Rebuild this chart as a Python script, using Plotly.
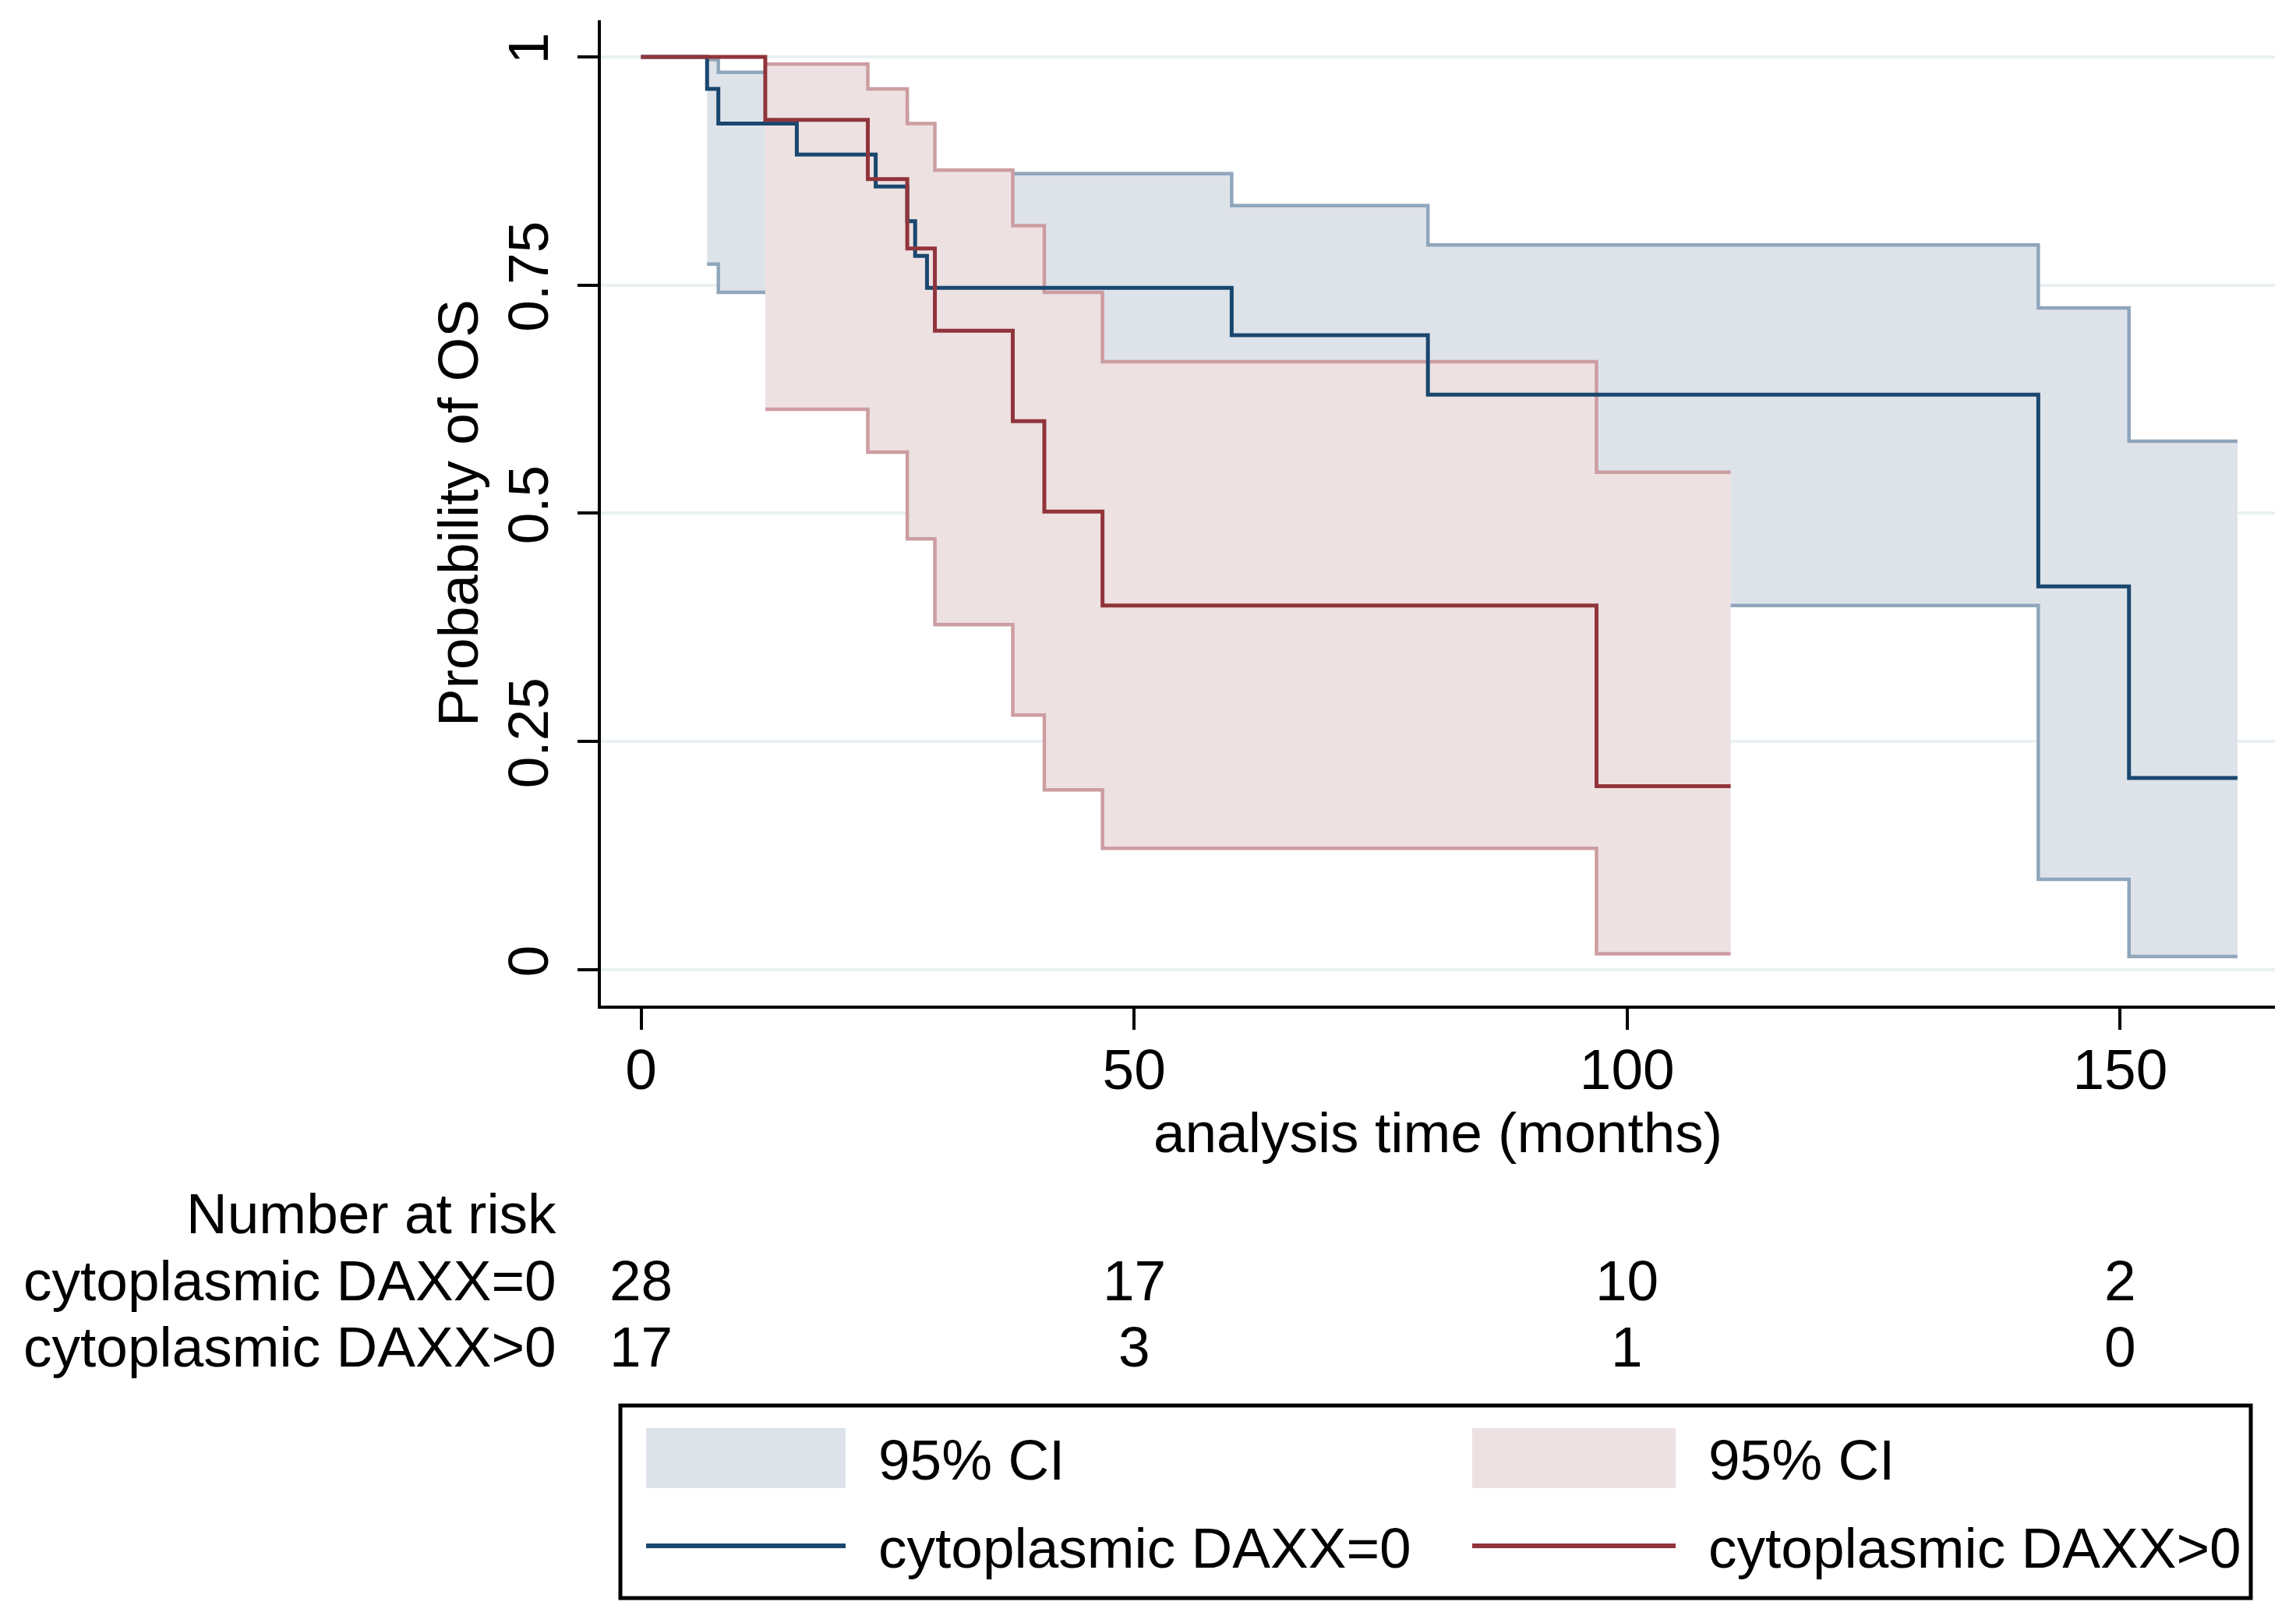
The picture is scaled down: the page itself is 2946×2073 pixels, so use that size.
import plotly.graph_objects as go

# ---------------- data ----------------
# Group DAXX=0 : Kaplan-Meier estimate
t0 = [0, 6.7, 7.84, 15.8, 23.8, 27.0, 27.8, 29.0, 59.9, 79.8, 141.7, 150.9, 161.9]
s0 = [1.0, 0.965, 0.927, 0.893, 0.858, 0.820, 0.782, 0.747, 0.695, 0.630, 0.420, 0.210, 0.210]
# Group DAXX=0 : 95% CI
ci0_t = [6.7, 7.84, 15.8, 23.8, 27.0, 27.8, 29.0, 59.9, 79.8, 141.7, 150.9, 161.9]
ci0_hi = [0.997, 0.983, 0.958, 0.940, 0.915, 0.900, 0.872, 0.837, 0.794, 0.725, 0.579, 0.579]
ci0_lo = [0.773, 0.742, 0.710, 0.665, 0.625, 0.590, 0.555, 0.490, 0.399, 0.099, 0.0145, 0.0145]

# Group DAXX>0 : Kaplan-Meier estimate
t1 = [0, 12.6, 23.0, 27.0, 29.8, 37.7, 40.9, 46.8, 96.9, 110.5]
s1 = [1.0, 0.931, 0.866, 0.790, 0.700, 0.601, 0.502, 0.399, 0.201, 0.201]
# Group DAXX>0 : 95% CI
ci1_t = [12.6, 23.0, 27.0, 29.8, 37.7, 40.9, 46.8, 96.9, 110.5]
ci1_hi = [0.992, 0.965, 0.927, 0.876, 0.815, 0.742, 0.666, 0.545, 0.545]
ci1_lo = [0.614, 0.567, 0.472, 0.378, 0.279, 0.197, 0.133, 0.0175, 0.0175]

# Number at risk table
risk_times = [0, 50, 100, 150]
risk_labels = ["cytoplasmic DAXX=0", "cytoplasmic DAXX>0"]
risk_g0 = [28, 17, 10, 2]
risk_g1 = [17, 3, 1, 0]

x_ticks = [0, 50, 100, 150]
y_ticks = [0, 0.25, 0.5, 0.75, 1]
y_ticklabels = ["0", "0.25", "0.5", "0.75", "1"]

legend_labels = ["95% CI", "95% CI", "cytoplasmic DAXX=0", "cytoplasmic DAXX>0"]

# ---------------- styles ----------------
FONT = "Liberation Sans, Arial, sans-serif"
FS = 73
BLUE = "#1a476f"
RED = "#90353b"
BLUE_FILL = "#dee3ea"
BLUE_EDGE = "#8fa6bb"
RED_FILL = "#ede1e2"
RED_EDGE = "#cc9da1"

fig = go.Figure()

# CI group 0
fig.add_trace(go.Scatter(x=ci0_t, y=ci0_lo, mode="lines", line=dict(shape="hv", color=BLUE_EDGE, width=4.5),
                         showlegend=False, hoverinfo="skip"))
fig.add_trace(go.Scatter(x=ci0_t, y=ci0_hi, mode="lines", line=dict(shape="hv", color=BLUE_EDGE, width=4.5),
                         fill="tonexty", fillcolor=BLUE_FILL, showlegend=False, hoverinfo="skip"))
# CI group 1
fig.add_trace(go.Scatter(x=ci1_t, y=ci1_lo, mode="lines", line=dict(shape="hv", color=RED_EDGE, width=4.5),
                         showlegend=False, hoverinfo="skip"))
fig.add_trace(go.Scatter(x=ci1_t, y=ci1_hi, mode="lines", line=dict(shape="hv", color=RED_EDGE, width=4.5),
                         fill="tonexty", fillcolor=RED_FILL, showlegend=False, hoverinfo="skip"))
# KM curves
fig.add_trace(go.Scatter(x=t0, y=s0, mode="lines", line=dict(shape="hv", color=BLUE, width=5),
                         name=legend_labels[2], showlegend=False))
fig.add_trace(go.Scatter(x=t1, y=s1, mode="lines", line=dict(shape="hv", color=RED, width=5),
                         name=legend_labels[3], showlegend=False))

# ---------------- layout geometry (window pixels; page body has an 8px margin) ----------------
OFF = 8
W, H = 2946 - 2 * OFF, 2073 - 2 * OFF
PLOT_L, PLOT_R, PLOT_T, PLOT_B = 771, 2919, 26, 1290   # plot area in window pixels
L = PLOT_L - OFF
T = PLOT_T - OFF
PW = PLOT_R - PLOT_L
PH = PLOT_B - PLOT_T
R = W - L - PW
B = H - T - PH


def px_x(px):
    return (px - PLOT_L) / PW


def px_y(py):
    return (PLOT_B - py) / PH


annotations = []
shapes = []

# Number at risk table
annotations.append(dict(text="Number at risk", xref="paper", yref="paper", x=px_x(716), y=px_y(1557),
                        xanchor="right", yanchor="middle", showarrow=False, font=dict(size=FS, color="black", family=FONT)))
row_y = [px_y(1642), px_y(1727)]
for lab, ry, vals in zip(risk_labels, row_y, [risk_g0, risk_g1]):
    annotations.append(dict(text=lab, xref="paper", yref="paper", x=px_x(716), y=ry,
                            xanchor="right", yanchor="middle", showarrow=False,
                            font=dict(size=FS, color="black", family=FONT)))
    for tt, v in zip(risk_times, vals):
        annotations.append(dict(text=str(v), xref="x", yref="paper", x=tt, y=ry,
                                xanchor="center", yanchor="middle", showarrow=False,
                                font=dict(size=FS, color="black", family=FONT)))

# Legend (drawn manually to reproduce Stata's 2x2 legend box)
shapes.append(dict(type="rect", xref="paper", yref="paper", x0=px_x(796), x1=px_x(2888),
                   y0=px_y(1803), y1=px_y(2050), line=dict(color="black", width=5), fillcolor="white", layer="above"))
col_x0 = [829, 1889]
col_x1 = [1085, 2150]
text_x = [1125, 2190]
fills = [BLUE_FILL, RED_FILL]
lines = [BLUE, RED]
for c in range(2):
    shapes.append(dict(type="rect", xref="paper", yref="paper", x0=px_x(col_x0[c]), x1=px_x(col_x1[c]),
                       y0=px_y(1832), y1=px_y(1909), line=dict(width=0), fillcolor=fills[c], layer="above"))
    shapes.append(dict(type="line", xref="paper", yref="paper", x0=px_x(col_x0[c]), x1=px_x(col_x1[c]),
                       y0=px_y(1983), y1=px_y(1983), line=dict(color=lines[c], width=6), layer="above"))
    annotations.append(dict(text=legend_labels[c], xref="paper", yref="paper", x=px_x(text_x[c]), y=px_y(1872),
                            xanchor="left", yanchor="middle", showarrow=False,
                            font=dict(size=FS, color="black", family=FONT)))
    annotations.append(dict(text=legend_labels[c + 2], xref="paper", yref="paper", x=px_x(text_x[c]), y=px_y(1985),
                            xanchor="left", yanchor="middle", showarrow=False,
                            font=dict(size=FS, color="black", family=FONT)))

fig.update_layout(
    width=W, height=H,
    margin=dict(l=L, r=R, t=T, b=B, pad=0),
    paper_bgcolor="white", plot_bgcolor="white",
    font=dict(family=FONT, size=FS, color="black"),
    showlegend=False,
    xaxis=dict(range=[-4.07, 165.7], tickvals=x_ticks, ticktext=[str(v) for v in x_ticks],
               showgrid=False, zeroline=False, showline=True, linecolor="black", linewidth=4,
               ticks="outside", ticklen=27, tickwidth=4, tickcolor="black", ticklabelstandoff=-12,
               tickfont=dict(size=FS, family=FONT, color="black"),
               title=dict(text="analysis time (months)", font=dict(size=FS, family=FONT, color="black"), standoff=0),
               automargin=False),
    yaxis=dict(range=[-0.0393, 1.0401], tickvals=y_ticks, ticktext=y_ticklabels, tickangle=-90,
               showgrid=True, gridcolor="#eaf1f3", gridwidth=4, zeroline=False,
               showline=True, linecolor="black", linewidth=4,
               ticks="outside", ticklen=26, tickwidth=4, tickcolor="black", ticklabelstandoff=9,
               tickfont=dict(size=FS, family=FONT, color="black"),
               title=dict(text="Probability of OS", font=dict(size=FS, family=FONT, color="black"), standoff=0),
               automargin=False),
    annotations=annotations,
    shapes=shapes,
)

fig.write_html("out.html")
